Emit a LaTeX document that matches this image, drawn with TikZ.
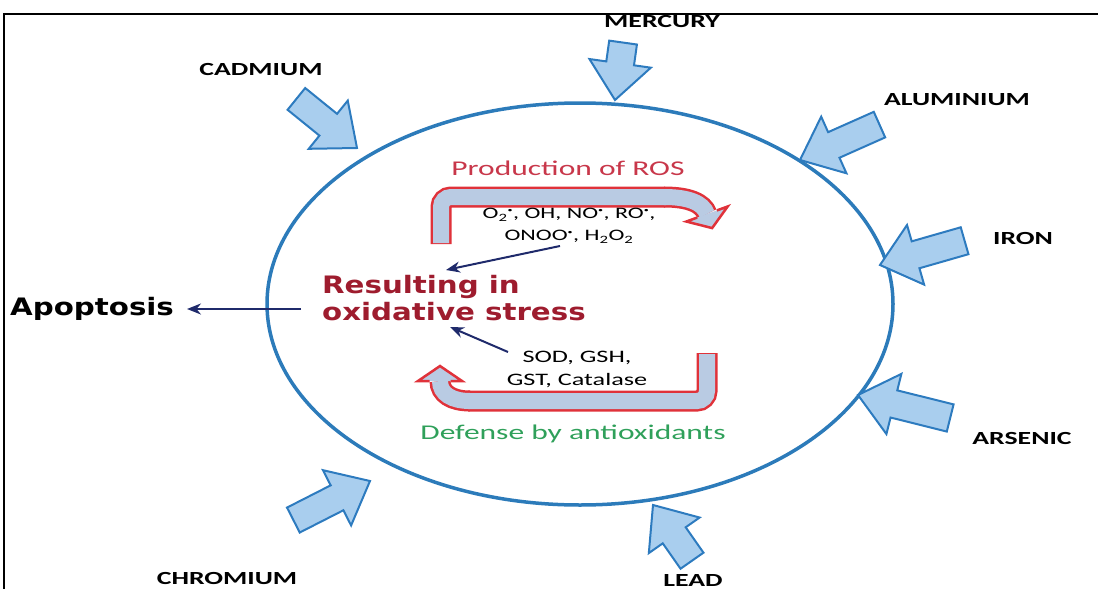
\documentclass[tikz,border=0pt]{standalone}
\usepackage{fontspec}
\setmainfont{Carlito}
\newfontfamily\labfont[FakeStretch=1.5]{Carlito}
\newfontfamily\hvfont[FakeStretch=1.22]{DejaVu Sans}
\usetikzlibrary{arrows.meta}
\definecolor{metalfill}{HTML}{A9CEEE}
\definecolor{metalline}{HTML}{2D7BBF}
\definecolor{cellblue}{HTML}{2C7BBA}
\definecolor{rosred}{HTML}{C8374A}
\definecolor{ribred}{HTML}{E0323A}
\definecolor{ribfill}{HTML}{B9CBE3}
\definecolor{stressred}{HTML}{9E1C2E}
\definecolor{navy}{HTML}{1F2A6B}
\definecolor{defgreen}{HTML}{2FA05A}
\newcommand\rdot{\textsuperscript{\scalebox{0.6}{•}}}
\newcommand\blockarrow[3]{%
  \draw[metal, shift={#1}, rotate=#2] (0,0) -- (-37,31) -- (-37,14) -- (-#3,14) -- (-#3,-14) -- (-37,-14) -- (-37,-31) -- cycle;}
\begin{document}
\begin{tikzpicture}[x=1pt,y=-1pt,
  metal/.style={fill=metalfill, draw=metalline, line width=2pt, line join=miter},
  metallabel/.style={font=\labfont\bfseries\fontsize{18.5}{20}\selectfont, inner sep=0pt},
  ribout/.style={draw=ribred, line width=21pt},
  ribin/.style={draw=ribfill, line width=16pt},
  ribhead/.style={fill=ribfill, draw=ribred, line width=2.5pt, line join=miter},
  navyarrow/.style={draw=navy, line width=2pt, -{Stealth[length=14pt,width=11pt]}},
  innertext/.style={font=\labfont\fontsize{16}{22}\selectfont, inner sep=0pt, align=center}]
\useasboundingbox (0,0) rectangle (1098,589);
% frame
\draw[line width=2.5pt] (4,589) -- (4,14) -- (1098,14);
% cell
\draw[cellblue, line width=3.5pt] (580,304) ellipse [x radius=313, y radius=201];
% metal arrows
\blockarrow{(615,100)}{-98}{58}
\blockarrow{(357,148)}{-39}{78}
\blockarrow{(800,160)}{-156}{87}
\blockarrow{(880,265)}{-164}{88}
\blockarrow{(858,395)}{166}{95}
\blockarrow{(370,481)}{27}{86}
\blockarrow{(653,505)}{125}{68}
% metal labels
\node[metallabel] (mercury) at (662,22) {MERCURY};
\node[metallabel] (cadmium) at (261,70) {CADMIUM};
\node[metallabel] (aluminium) at (957,100) {ALUMINIUM};
\node[metallabel] (iron) at (1023,238) {IRON};
\node[metallabel] (arsenic) at (1022,438) {ARSENIC};
\node[metallabel] (chromium) at (227,578) {CHROMIUM};
\node[metallabel] (lead) at (693,580) {LEAD};
% production ribbon
\draw[ribout, rounded corners=10pt] (441,244) -- (441,197) -- (665,197);
\draw[ribout] (664,197) .. controls (689,197) and (703,203) .. (707,214);
\draw[ribin, rounded corners=10pt] (441,243) -- (441,197) -- (666,197);
\draw[ribin] (664,197) .. controls (689,197) and (703,203) .. (707,214);
\filldraw[ribhead, shift={(707,214)}, rotate=-70] (0,-10.5) -- (0,-22) -- (15,0) -- (0,22) -- (0,10.5);
% defense ribbon
\draw[ribout, rounded corners=10pt] (707,353) -- (707,401) -- (468,401);
\draw[ribout] (470,401) .. controls (452,401) and (440,394) .. (440,381);
\draw[ribin, rounded corners=10pt] (707,354) -- (707,401) -- (468,401);
\draw[ribin] (470,401) .. controls (452,401) and (440,394) .. (440,381);
\filldraw[ribhead, shift={(440,381)}, rotate=90] (0,-10.5) -- (0,-22) -- (15,0) -- (0,22) -- (0,10.5);
% texts
\node[font=\labfont\fontsize{21}{24}\selectfont, text=rosred, inner sep=0pt] (ros) at (568,168) {Production of ROS};
\node[innertext] (species) at (569,226) {O\textsubscript{2}\rdot, OH, NO\rdot, RO\rdot,\\ONOO\rdot, H\textsubscript{2}O\textsubscript{2}};
\node[innertext, font=\labfont\fontsize{17.5}{23}\selectfont] (antiox) at (577,369) {SOD, GSH,\\GST, Catalase};
\node[font=\labfont\fontsize{21}{24}\selectfont, text=defgreen, inner sep=0pt] (defense) at (573,434) {Defense by antioxidants};
\node[font=\hvfont\bfseries\fontsize{24}{27}\selectfont, text=stressred, inner sep=0pt, align=left, anchor=west] (stress) at (322,298) {Resulting in\\oxidative stress};
\node[font=\hvfont\bfseries\fontsize{24}{27}\selectfont, inner sep=0pt, anchor=west] (apop) at (10,309) {Apoptosis};
% navy connectors
\coordinate (s1) at (560,246);
\coordinate (t1) at (446,270);
\coordinate (s2) at (508,352);
\coordinate (t2) at (450,327);
\coordinate (s3) at (301,309);
\coordinate (t3) at (187,309);
\draw[navyarrow] (s1) -- (t1);
\draw[navyarrow] (s2) -- (t2);
\draw[navyarrow] (s3) -- (t3);
\end{tikzpicture}
\end{document}
